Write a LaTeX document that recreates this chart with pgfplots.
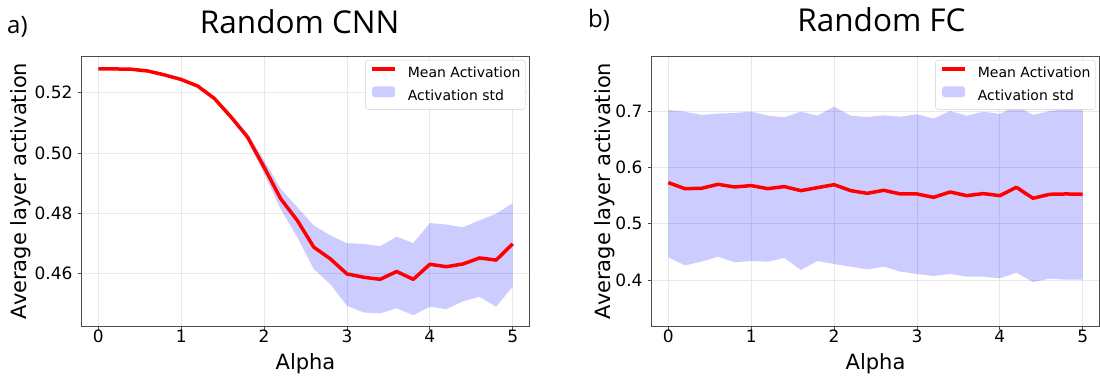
\documentclass[border=0pt]{standalone}
\usepackage{fontspec}
\setmainfont{DejaVu Sans}
\newfontfamily\titlefont{Open Sans}
\usepackage{pgfplots}
\usepackage{pgfplotstable}
\pgfplotsset{compat=1.18}

% Random CNN: mean activation
\pgfplotstableread{
x y
0.0 0.5279
0.2 0.5279
0.4 0.5278
0.6 0.5272
0.8 0.5259
1.0 0.5244
1.2 0.5222
1.4 0.5181
1.6 0.5120
1.8 0.5053
2.0 0.4953
2.2 0.4848
2.4 0.4776
2.6 0.4687
2.8 0.4648
3.0 0.4598
3.2 0.4587
3.4 0.4580
3.6 0.4606
3.8 0.4580
4.0 0.4630
4.2 0.4622
4.4 0.4631
4.6 0.4651
4.8 0.4644
5.0 0.4698
}\cnnmean

% Random CNN: std band (upper edge forward, lower edge backward)
\pgfplotstableread{
x y
0.0 0.5281
0.2 0.5281
0.4 0.5280
0.6 0.5274
0.8 0.5261
1.0 0.5246
1.2 0.5224
1.4 0.5184
1.6 0.5124
1.8 0.5064
2.0 0.4976
2.2 0.4881
2.4 0.4820
2.6 0.4759
2.8 0.4726
3.0 0.4700
3.2 0.4698
3.4 0.4690
3.6 0.4722
3.8 0.4700
4.0 0.4767
4.2 0.4762
4.4 0.4753
4.6 0.4776
4.8 0.4798
5.0 0.4833
5.0 0.4556
4.8 0.4489
4.6 0.4522
4.4 0.4507
4.2 0.4481
4.0 0.4489
3.8 0.4461
3.6 0.4484
3.4 0.4467
3.2 0.4470
3.0 0.4492
2.8 0.4564
2.6 0.4614
2.4 0.4720
2.2 0.4814
2.0 0.4931
1.8 0.5042
1.6 0.5114
1.4 0.5178
1.2 0.5220
1.0 0.5242
0.8 0.5257
0.6 0.5270
0.4 0.5276
0.2 0.5277
0.0 0.5277
}\cnnband

% Random FC: mean activation
\pgfplotstableread{
x y
0.0 0.5728
0.2 0.5621
0.4 0.5627
0.6 0.5698
0.8 0.5651
1.0 0.5675
1.2 0.5621
1.4 0.5657
1.6 0.5586
1.8 0.5639
2.0 0.5692
2.2 0.5586
2.4 0.5538
2.6 0.5592
2.8 0.5527
3.0 0.5527
3.2 0.5467
3.4 0.5562
3.6 0.5497
3.8 0.5533
4.0 0.5497
4.2 0.5645
4.4 0.5450
4.6 0.5521
4.8 0.5527
5.0 0.5521
}\fcmean

% Random FC: std band (upper edge forward, lower edge backward)
\pgfplotstableread{
x y
0.0 0.7018
0.2 0.6988
0.4 0.6929
0.6 0.6953
0.8 0.6964
1.0 0.6988
1.2 0.6917
1.4 0.6888
1.6 0.6988
1.8 0.6917
2.0 0.7077
2.2 0.6917
2.4 0.6893
2.6 0.6923
2.8 0.6899
3.0 0.6941
3.2 0.6864
3.4 0.7000
3.6 0.6917
3.8 0.6988
4.0 0.6947
4.2 0.7089
4.4 0.6929
4.6 0.7000
4.8 0.7030
5.0 0.7018
5.0 0.4006
4.8 0.4006
4.6 0.4024
4.4 0.3964
4.2 0.4130
4.0 0.4030
3.8 0.4060
3.6 0.4060
3.4 0.4107
3.2 0.4071
3.0 0.4107
2.8 0.4148
2.6 0.4237
2.4 0.4189
2.2 0.4237
2.0 0.4284
1.8 0.4337
1.6 0.4178
1.4 0.4391
1.2 0.4325
1.0 0.4337
0.8 0.4314
0.6 0.4414
0.4 0.4325
0.2 0.4260
0.0 0.4402
}\fcband

\pgfplotsset{
 myax/.style={
  scale only axis, width=447.6pt, height=270pt,
  xmin=-0.2, xmax=5.2,
  xtick={0,1,2,3,4,5},
  tick align=outside, xtick pos=bottom, ytick pos=left,
  major tick length=4pt,
  every tick/.style={black!70, line width=0.8pt},
  axis line style={black!70, line width=0.8pt},
  grid=major, major grid style={black!9, line width=0.8pt},
  /pgf/number format/assume math mode=true,
  tick label style={font=\fontsize{17}{20}\selectfont},
  xticklabel style={anchor=base, yshift=-13pt},
  yticklabel style={anchor=east, inner sep=0pt, xshift=-5pt},
  every axis x label/.style={at={(axis description cs:0.5,0)}, anchor=base, yshift=-44pt,
    font=\fontsize{21}{24}\selectfont},
  legend style={at={(axis description cs:1,1)}, anchor=north east, xshift=-3.6pt, yshift=-4pt,
    draw=black!20, rounded corners=3pt, fill=white,
    font=\fontsize{14}{16}\selectfont, inner xsep=5pt, inner ysep=6.4pt, row sep=6.2pt,
    column sep=11pt,
    nodes={inner sep=0pt, text height=10.5pt, text depth=3pt}},
  legend cell align=left,
  xlabel={Alpha},
 },
 meanline/.style={red, line width=3.5pt, line join=round,
   legend image code/.code={\draw[##1] (0pt,4.5pt) -- (23pt,4.5pt);}},
 stdfill/.style={fill=blue, fill opacity=0.2, draw=none,
   legend image code/.code={\fill[##1] (0pt,-1pt) rectangle (23pt,10pt);}},
}

\begin{document}
\begin{tikzpicture}
\path[use as bounding box] (-81.7pt,-53pt) rectangle (1018.3pt,326pt);

\begin{axis}[myax,
  ymin=0.4425, ymax=0.5322,
  ytick={0.46,0.48,0.50,0.52},
  yticklabel style={/pgf/number format/.cd, fixed, fixed zerofill, precision=2},
  ylabel={Average layer activation},
  every axis y label/.style={at={(axis description cs:0,0.5)}, xshift=-54.7pt, rotate=90, anchor=base,
    font=\fontsize{21}{24}\selectfont},
]
\addlegendimage{meanline}
\addlegendentry{Mean Activation}
\addplot[stdfill] table[x=x, y=y] {\cnnband};
\addlegendentry{Activation std}
\addplot[meanline, forget plot] table[x=x, y=y] {\cnnmean};
\end{axis}

\begin{axis}[myax, at={(570pt,0pt)}, anchor=south west,
  ymin=0.3183, ymax=0.7976,
  ytick={0.4,0.5,0.6,0.7},
  yticklabel style={/pgf/number format/.cd, fixed, fixed zerofill, precision=1},
  ylabel={Average layer activation},
  every axis y label/.style={at={(axis description cs:0,0.5)}, xshift=-41.7pt, rotate=90, anchor=base,
    font=\fontsize{21}{24}\selectfont},
]
\addlegendimage{meanline}
\addlegendentry{Mean Activation}
\addplot[stdfill] table[x=x, y=y] {\fcband};
\addlegendentry{Activation std}
\addplot[meanline, forget plot] table[x=x, y=y] {\fcmean};
\end{axis}

\node[anchor=base, font=\titlefont\fontsize{31.5}{36}\selectfont] at (218pt,292pt) {Random CNN};
\node[anchor=base, font=\titlefont\fontsize{31.5}{36}\selectfont] at (799.8pt,294pt) {Random FC};
\node[anchor=base west, inner sep=0pt, font=\titlefont\fontsize{24}{28}\selectfont] at (-74.7pt,292pt) {a)};
\node[anchor=base west, inner sep=0pt, font=\titlefont\fontsize{24}{28}\selectfont] at (506.3pt,298pt) {b)};
\end{tikzpicture}
\end{document}
